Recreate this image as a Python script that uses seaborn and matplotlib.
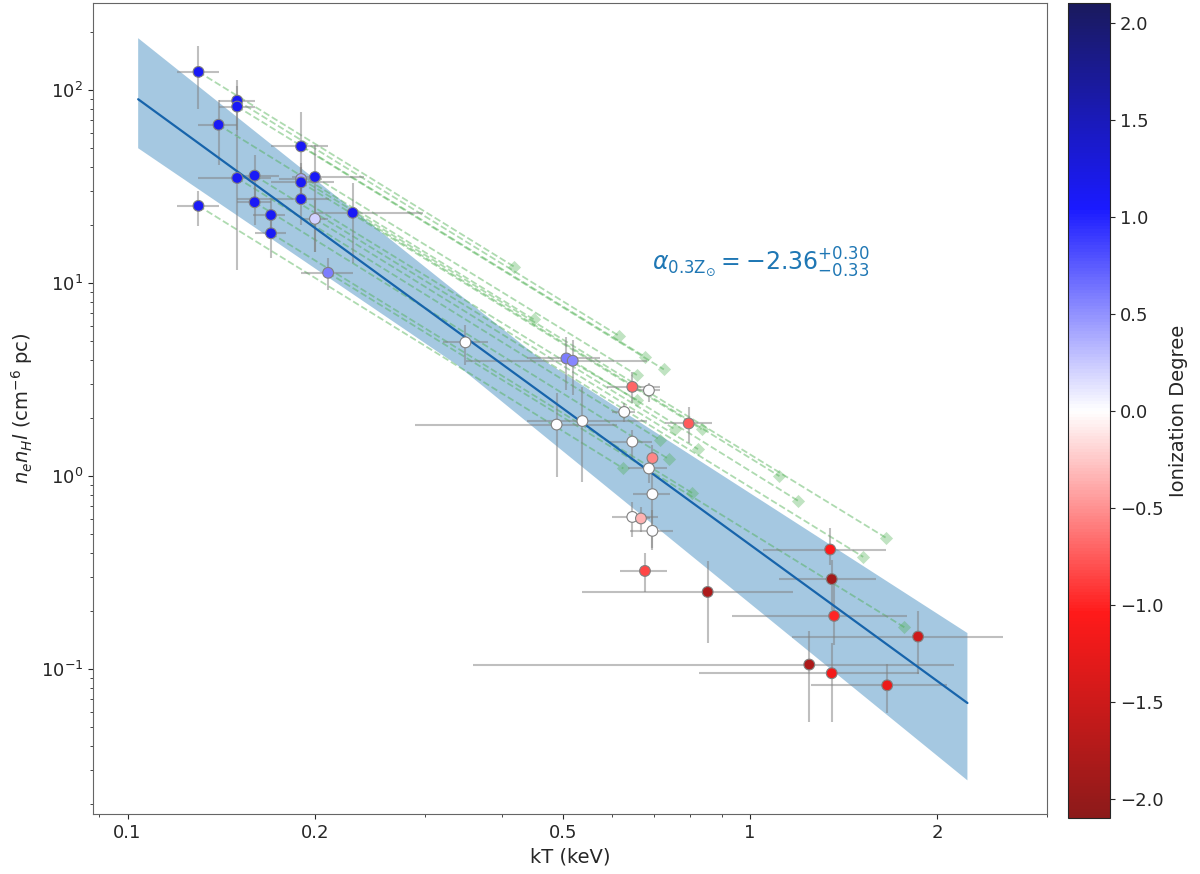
import numpy as np
import matplotlib
matplotlib.use("Agg")
import matplotlib.pyplot as plt
from matplotlib.colors import ListedColormap, Normalize
from matplotlib.ticker import FixedLocator, FixedFormatter, NullFormatter
import seaborn as sns

# Measured points: temperature, emission measure, ionization degree
kT = [0.190, 0.130, 0.150, 0.150, 0.140, 0.190, 0.150, 0.160, 0.200, 0.190,
      0.160, 0.190, 0.170, 0.200, 0.170, 0.230, 0.130, 0.210,
      0.349, 0.507, 0.519, 0.647, 0.688, 0.628, 0.489, 0.538, 0.647, 0.697,
      0.688, 0.697, 0.647, 0.668, 0.697, 0.678, 0.855, 0.797,
      1.345, 1.353, 1.365, 1.862, 1.245, 1.353, 1.661]
kT_lo = [0.175, 0.120, 0.140, 0.140, 0.130, 0.170, 0.130, 0.150, 0.184, 0.170,
         0.150, 0.150, 0.159, 0.190, 0.160, 0.200, 0.120, 0.190,
         0.321, 0.439, 0.350, 0.589, 0.658, 0.600, 0.290, 0.439, 0.596, 0.690,
         0.637, 0.649, 0.600, 0.650, 0.642, 0.618, 0.538, 0.730,
         1.048, 1.115, 0.936, 1.168, 0.359, 0.828, 1.255]
kT_hi = [0.205, 0.140, 0.160, 0.160, 0.150, 0.210, 0.170, 0.175, 0.240, 0.215,
         0.170, 0.211, 0.179, 0.210, 0.180, 0.298, 0.140, 0.230,
         0.379, 0.575, 0.683, 0.717, 0.717, 0.654, 0.611, 0.683, 0.695, 0.705,
         0.735, 0.744, 0.712, 0.690, 0.752, 0.735, 1.174, 0.868,
         1.651, 1.592, 1.788, 2.552, 2.128, 1.866, 2.071]
em = [34.6, 124, 88, 82, 66, 51, 35, 36, 35.4, 33.2,
      26.2, 27.2, 22.5, 21.5, 18.1, 23.1, 25.1, 11.3,
      4.93, 4.07, 3.96, 2.90, 2.78, 2.15, 1.85, 1.93, 1.51, 1.24,
      1.096, 0.807, 0.615, 0.604, 0.521, 0.323, 0.2515, 1.875,
      0.417, 0.293, 0.189, 0.1477, 0.1058, 0.0954, 0.0826]
em_lo = [28, 80, 62, 58, 41, 30, 11.7, 26, 14.5, 26,
         20, 20, 18, 14.5, 13.5, 12.7, 19.7, 9.2,
         3.76, 2.79, 2.63, 2.38, 2.43, 1.91, 0.99, 0.93, 1.21, 1.1,
         0.92, 0.414, 0.485, 0.514, 0.424, 0.2515, 0.1375, 1.477,
         0.346, 0.202, 0.133, 0.095, 0.0533, 0.0533, 0.0597]
em_hi = [42, 169, 113, 105, 89, 77, 57, 46, 52, 40,
         33, 34, 27, 27, 21.5, 33, 30, 13.5,
         6.06, 5.27, 5.07, 3.47, 3.02, 2.38, 2.69, 2.90, 1.73, 1.45,
         1.21, 1.17, 0.736, 0.693, 0.667, 0.399, 0.364, 2.29,
         0.542, 0.367, 0.289, 0.2005, 0.158, 0.1369, 0.106]
ion = [0.4, 1.1, 1.1, 1.1, 1.1, 1.1, 1.1, 1.1, 1.1, 1.1,
       1.1, 1.1, 1.1, 0.2, 1.1, 1.1, 1.1, 0.6,
       0.0, 0.6, 0.55, -0.7, 0.0, 0.0, 0.0, 0.0, 0.0, -0.55,
       0.0, 0.0, 0.0, -0.35, 0.0, -0.85, -1.8, -0.75,
       -1.05, -1.9, -1.0, -1.5, -1.8, -1.15, -1.2]

# Tracks to solar metallicity: start point -> diamond end
trk_x0 = [0.130, 0.150, 0.150, 0.190, 0.140, 0.200, 0.190, 0.230, 0.190, 0.519,
          0.507, 0.190, 0.160, 0.200, 0.150, 0.160, 0.170, 0.210, 0.130]
trk_y0 = [124, 88, 82, 51, 66, 35.4, 33.2, 23.1, 34.6, 3.96,
          4.07, 27.2, 36, 21.5, 35, 26.2, 18.1, 11.3, 25.1]
trk_x1 = [0.418, 0.617, 0.678, 0.727, 0.449, 0.658, 0.836, 1.115, 1.651, 1.195,
          0.658, 0.757, 0.825, 1.520, 0.717, 0.742, 0.807, 1.770, 0.626]
trk_y1 = [12.15, 5.31, 4.15, 3.57, 6.49, 3.34, 1.75, 1.00, 0.481, 0.745,
          2.48, 1.75, 1.38, 0.382, 1.54, 1.22, 0.819, 0.165, 1.096]

# Best fit and its uncertainty envelope
fit_x = [0.104, 2.235]
fit_y = [89.5, 0.0669]
band_x = [0.104, 0.452, 2.235, 2.235, 0.337, 0.104]
band_y = [185.3, 4.24, 0.154, 0.0266, 3.80, 49.9]

sns.set_style("ticks")
plt.rcParams["font.family"] = ["DejaVu Sans"]

base = plt.get_cmap("seismic_r")(np.linspace(0, 1, 256))
base[:, :3] = 0.9 * base[:, :3] + 0.1
cmap = ListedColormap(base)
norm = Normalize(-2.1, 2.1)

fig = plt.figure(figsize=(12, 8.74), dpi=100)
ax = fig.add_axes([0.0775, 0.0686, 0.795, 0.928])
cax = fig.add_axes([0.89, 0.064, 0.035, 0.932])
ax.set_xscale("log")
ax.set_yscale("log")

ax.fill(band_x, band_y, color="tab:blue", alpha=0.4, lw=0, zorder=1)
ax.plot(fit_x, fit_y, color="#1764ab", lw=1.6, zorder=4)

for x0, y0, x1, y1 in zip(trk_x0, trk_y0, trk_x1, trk_y1):
    ax.plot([x0, x1], [y0, y1], ls="--", color="#4caf50", alpha=0.45, lw=1.3, zorder=2)
ax.scatter(trk_x1, trk_y1, marker="D", s=45, color="#4caf50", alpha=0.35, lw=0, zorder=2)

kT_a, em_a = np.array(kT), np.array(em)
ax.errorbar(kT_a, em_a,
            xerr=[kT_a - np.array(kT_lo), np.array(kT_hi) - kT_a],
            yerr=[em_a - np.array(em_lo), np.array(em_hi) - em_a],
            fmt="none", ecolor="gray", alpha=0.5, elinewidth=1.5, zorder=3)

sns.scatterplot(x=kT, y=em, hue=ion, palette=cmap, hue_norm=norm, s=60,
                edgecolor="gray", linewidth=0.8, legend=False, ax=ax, zorder=5)

ax.text(0.695, 12.8, r"$\alpha_{0.3\mathrm{Z}_{\odot}}=-2.36^{+0.30}_{-0.33}$",
        color="tab:blue", fontsize=17, ha="left", va="center")

ax.set_xlim(0.088, 3.0)
ax.set_ylim(0.0178, 282)
ax.xaxis.set_major_locator(FixedLocator([0.1, 0.2, 0.5, 1, 2]))
ax.xaxis.set_major_formatter(FixedFormatter(["0.1", "0.2", "0.5", "1", "2"]))
ax.xaxis.set_minor_formatter(NullFormatter())
ax.tick_params(labelsize=13)
ax.set_xlabel("kT (keV)", fontsize=14)
ax.set_ylabel(r"$n_e n_H l$ (cm$^{-6}$ pc)", fontsize=14)
for s in ax.spines.values():
    s.set_color("0.4")

sm = plt.cm.ScalarMappable(norm=norm, cmap=cmap)
cb = fig.colorbar(sm, cax=cax)
cb.set_ticks([-2, -1.5, -1, -0.5, 0, 0.5, 1, 1.5, 2])
cb.ax.tick_params(labelsize=13)
cb.set_label("Ionization Degree", fontsize=14)

fig.savefig("out.png", dpi=100)
